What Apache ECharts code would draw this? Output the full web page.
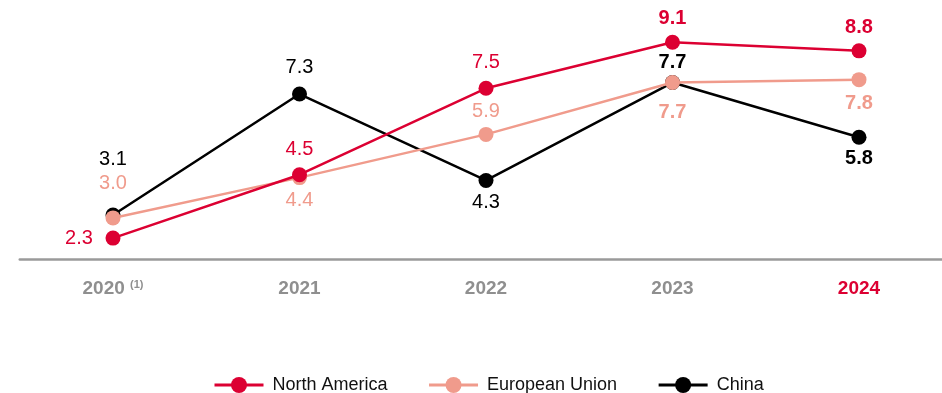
<!DOCTYPE html>
<html>
<head>
<meta charset="utf-8">
<script src="https://cdn.jsdelivr.net/npm/echarts@6/dist/echarts.min.js"></script>
<style>
  html, body { margin: 0; padding: 0; background: #ffffff; }
  #chart { width: 942px; height: 393px; }
</style>
</head>
<body>
<div id="chart"></div>
<script>
// Yearly values per region
const years = ['2020', '2021', '2022', '2023', '2024'];
const northAmerica = [2.3, 4.5, 7.5, 9.1, 8.8];
const europeanUnion = [3.0, 4.4, 5.9, 7.7, 7.8];
const china = [3.1, 7.3, 4.3, 7.7, 5.8];

const RED = '#dc0032';
const SALMON = '#f09b8c';
const BLACK = '#000000';
const GREY = '#8f8f8f';
const FONT = 'Liberation Sans, Arial, Helvetica, sans-serif';

// Value label placement (offset from the marker centre, in px)
const labelShift = {
  na: [[-34, 0], [0, -25], [0, -26], [0, -24], [0, -23]],
  eu: [[0, -34], [0, 23], [0, -23], [0, 30], [0, 24]],
  cn: [[0, -56], [0, -27], [0, 22], [0, -20], [0, 21]]
};

function buildData(values, shifts) {
  return values.map((v, i) => ({
    value: v,
    label: {
      offset: shifts[i],
      fontWeight: i >= 3 ? 'bold' : 'normal'
    }
  }));
}

function lineSeries(name, values, shifts, color, z) {
  return {
    name: name,
    type: 'line',
    data: buildData(values, shifts),
    symbol: 'circle',
    symbolSize: 15,
    z: z,
    lineStyle: { color: color, width: 2.5 },
    itemStyle: { color: color },
    label: {
      show: true,
      position: 'inside',
      color: color,
      fontFamily: FONT,
      fontSize: 20,
      formatter: p => p.value.toFixed(1)
    },
    emphasis: { disabled: true },
    animation: false
  };
}

const chart = echarts.init(document.getElementById('chart'), null, { renderer: 'canvas' });

chart.setOption({
  backgroundColor: '#ffffff',
  animation: false,
  grid: {
    left: 19.75, right: -10.25, top: 30.7, bottom: 133.6,
    containLabel: false,
    outerBoundsMode: 'none'
  },
  legend: {
    top: 371,
    left: 208,
    itemWidth: 49,
    itemHeight: 20,
    itemGap: 40,
    data: ['North America', 'European Union', 'China'],
    lineStyle: { width: 3 },
    textStyle: {
      color: '#111111',
      fontFamily: FONT,
      fontSize: 18,
      padding: [0, 0, 0, 4]
    }
  },
  xAxis: {
    type: 'category',
    data: years,
    boundaryGap: true,
    axisLine: { show: true, lineStyle: { color: '#9a9a9a', width: 2.5 } },
    axisTick: { show: false },
    axisLabel: {
      interval: 0,
      margin: 20,
      fontFamily: FONT,
      fontWeight: 'bold',
      fontSize: 19,
      color: (val) => (val === '2024' ? RED : GREY),
      formatter: (val) => (val === '2020' ? val + ' {sup|(1)}' : val),
      rich: {
        sup: {
          fontFamily: FONT,
          fontSize: 11,
          color: GREY,
          verticalAlign: 'top',
          padding: [0, 0, 8, 0]
        }
      }
    },
    splitLine: { show: false }
  },
  yAxis: {
    type: 'value',
    min: 1.56,
    max: 9.5,
    show: false,
    splitLine: { show: false }
  },
  series: [
    lineSeries('China', china, labelShift.cn, BLACK, 2),
    lineSeries('European Union', europeanUnion, labelShift.eu, SALMON, 3),
    lineSeries('North America', northAmerica, labelShift.na, RED, 4)
  ]
});
</script>
</body>
</html>
